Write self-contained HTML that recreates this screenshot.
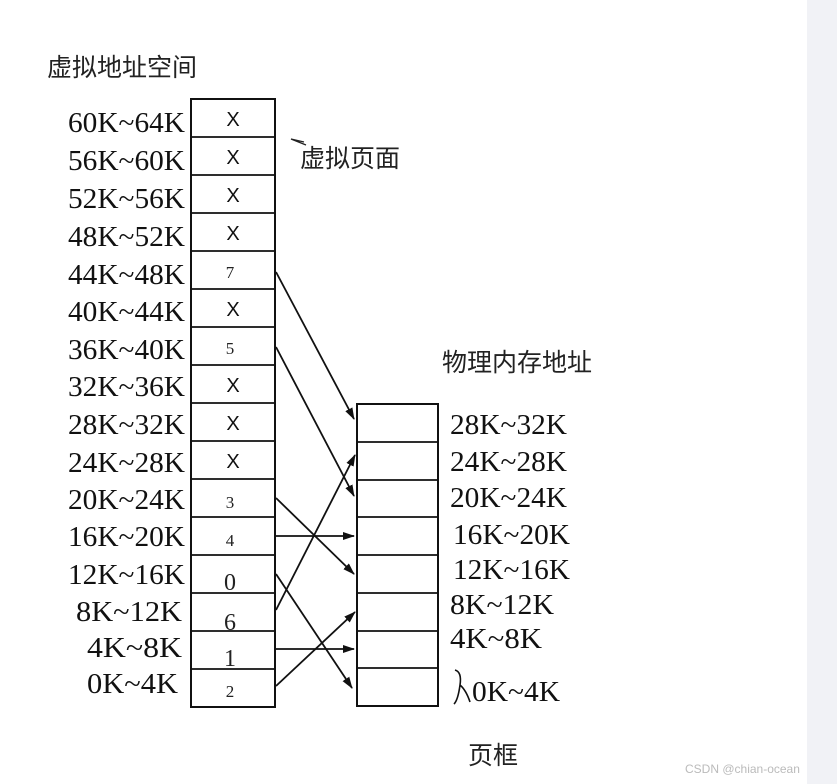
<!DOCTYPE html>
<html><head><meta charset="utf-8"><style>
html,body{margin:0;padding:0;background:#fff}
svg{display:block}
.l{font-family:"Liberation Serif",serif;font-size:28px;fill:#111}
.c{font-family:"Liberation Sans","Noto Sans CJK SC",sans-serif;font-size:25px;fill:#222}
.n{font-family:"Liberation Serif",serif;font-size:17px;fill:#222}
.x{font-family:"Liberation Sans",sans-serif;font-size:20px;fill:#111}
</style></head><body>
<svg width="837" height="784" viewBox="0 0 837 784" xmlns="http://www.w3.org/2000/svg">
<rect x="807" y="0" width="30" height="784" fill="#f1f2f6"/>
<defs><marker id="a" markerWidth="12" markerHeight="8" refX="11" refY="4" orient="auto" markerUnits="userSpaceOnUse"><path d="M0,0 L12,4 L0,8 Z" fill="#111"/></marker></defs>
<text class="c" x="47" y="76">虚拟地址空间</text>
<text class="c" x="300" y="167">虚拟页面</text>
<path d="M304,142 L291,139 L306,145" stroke="#222" fill="none" stroke-width="1.3"/>
<text class="c" x="442" y="371">物理内存地址</text>
<text class="c" x="468" y="764">页框</text>
<text x="685" y="773" font-family="Liberation Sans,sans-serif" font-size="12" fill="#bbb">CSDN @chian-ocean</text>
<g stroke="#111" stroke-width="2" fill="none">
<rect x="191" y="99" width="84" height="608"/>
<rect x="357" y="404" width="81" height="302"/>
</g>
<g stroke="#111" stroke-width="1.8">
<line x1="191" y1="137" x2="275" y2="137"/><line x1="191" y1="175" x2="275" y2="175"/><line x1="191" y1="213" x2="275" y2="213"/><line x1="191" y1="251" x2="275" y2="251"/><line x1="191" y1="289" x2="275" y2="289"/><line x1="191" y1="327" x2="275" y2="327"/><line x1="191" y1="365" x2="275" y2="365"/><line x1="191" y1="403" x2="275" y2="403"/><line x1="191" y1="441" x2="275" y2="441"/><line x1="191" y1="479" x2="275" y2="479"/><line x1="191" y1="517" x2="275" y2="517"/><line x1="191" y1="555" x2="275" y2="555"/><line x1="191" y1="593" x2="275" y2="593"/><line x1="191" y1="631" x2="275" y2="631"/><line x1="191" y1="669" x2="275" y2="669"/>
<line x1="357" y1="442" x2="438" y2="442"/><line x1="357" y1="480" x2="438" y2="480"/><line x1="357" y1="517" x2="438" y2="517"/><line x1="357" y1="555" x2="438" y2="555"/><line x1="357" y1="593" x2="438" y2="593"/><line x1="357" y1="631" x2="438" y2="631"/><line x1="357" y1="668" x2="438" y2="668"/>
</g>
<g stroke="#111" stroke-width="1.8" marker-end="url(#a)">
<line x1="276" y1="272" x2="354" y2="419"/>
<line x1="276" y1="347" x2="354" y2="496"/>
<line x1="276" y1="498" x2="354" y2="574"/>
<line x1="276" y1="536" x2="354" y2="536"/>
<line x1="276" y1="574" x2="352" y2="688"/>
<line x1="276" y1="610" x2="355" y2="455"/>
<line x1="276" y1="649" x2="354" y2="649"/>
<line x1="276" y1="686" x2="355" y2="612"/>
</g>
<g class="x" text-anchor="middle">
<text x="233" y="126">X</text><text x="233" y="164">X</text><text x="233" y="202">X</text><text x="233" y="240">X</text>
<text x="233" y="316">X</text><text x="233" y="392">X</text><text x="233" y="430">X</text><text x="233" y="468">X</text>
</g>
<g class="n" text-anchor="middle">
<text x="230" y="278">7</text><text x="230" y="354">5</text><text x="230" y="508">3</text><text x="230" y="546">4</text>
<text x="230" y="590" font-size="24">0</text><text x="230" y="630" font-size="24">6</text><text x="230" y="666" font-size="24">1</text><text x="230" y="697">2</text>
</g>
<g class="l" lengthAdjust="spacingAndGlyphs">
<text x="68" y="132" textLength="117" lengthAdjust="spacingAndGlyphs">60K~64K</text><text x="68" y="170" textLength="117" lengthAdjust="spacingAndGlyphs">56K~60K</text><text x="68" y="208" textLength="117" lengthAdjust="spacingAndGlyphs">52K~56K</text><text x="68" y="246" textLength="117" lengthAdjust="spacingAndGlyphs">48K~52K</text>
<text x="68" y="284" textLength="117" lengthAdjust="spacingAndGlyphs">44K~48K</text><text x="68" y="321" textLength="117" lengthAdjust="spacingAndGlyphs">40K~44K</text><text x="68" y="359" textLength="117" lengthAdjust="spacingAndGlyphs">36K~40K</text><text x="68" y="396" textLength="117" lengthAdjust="spacingAndGlyphs">32K~36K</text>
<text x="68" y="434" textLength="117" lengthAdjust="spacingAndGlyphs">28K~32K</text><text x="68" y="472" textLength="117" lengthAdjust="spacingAndGlyphs">24K~28K</text><text x="68" y="509" textLength="117" lengthAdjust="spacingAndGlyphs">20K~24K</text><text x="68" y="546" textLength="117" lengthAdjust="spacingAndGlyphs">16K~20K</text>
<text x="68" y="584" textLength="117" lengthAdjust="spacingAndGlyphs">12K~16K</text><text x="76" y="621" textLength="106" lengthAdjust="spacingAndGlyphs">8K~12K</text><text x="87" y="657" textLength="95" lengthAdjust="spacingAndGlyphs">4K~8K</text><text x="87" y="693" textLength="91" lengthAdjust="spacingAndGlyphs">0K~4K</text>
</g>
<g class="l">
<text x="450" y="434" textLength="117" lengthAdjust="spacingAndGlyphs">28K~32K</text><text x="450" y="471" textLength="117" lengthAdjust="spacingAndGlyphs">24K~28K</text><text x="450" y="507" textLength="117" lengthAdjust="spacingAndGlyphs">20K~24K</text><text x="453" y="544" textLength="117" lengthAdjust="spacingAndGlyphs">16K~20K</text>
<text x="453" y="579" textLength="117" lengthAdjust="spacingAndGlyphs">12K~16K</text><text x="450" y="614" textLength="104" lengthAdjust="spacingAndGlyphs">8K~12K</text><text x="450" y="648" textLength="92" lengthAdjust="spacingAndGlyphs">4K~8K</text><text x="472" y="701" textLength="88" lengthAdjust="spacingAndGlyphs">0K~4K</text>
</g>
<path d="M455,670 Q462,672 460,685 Q458,700 454,704 M460,685 Q466,690 470,702" stroke="#111" stroke-width="1.6" fill="none"/>
</svg>
</body></html>
